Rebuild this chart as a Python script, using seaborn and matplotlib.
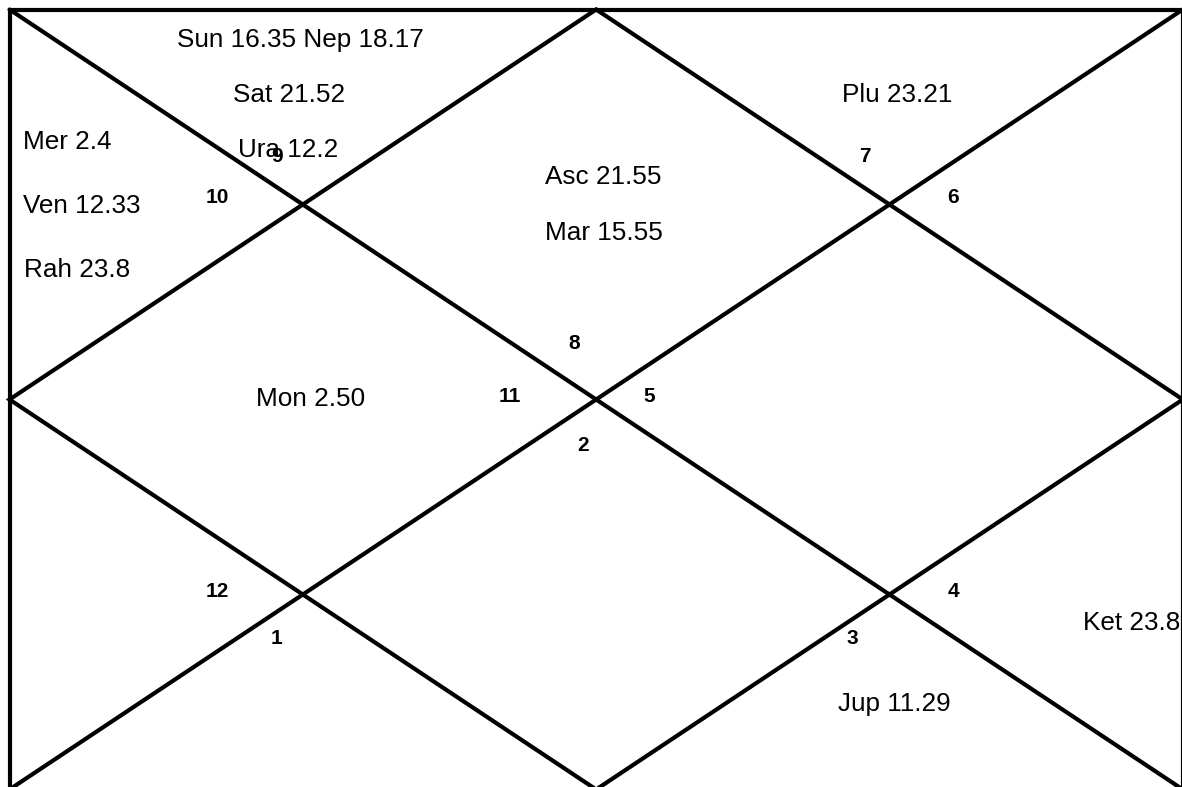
import matplotlib
matplotlib.use("Agg")
import matplotlib.pyplot as plt
import pandas as pd
import seaborn as sns

# Chart content (North Indian style chart)
planet_lines = ['Sun 16.35 Nep 18.17', 'Sat 21.52', 'Ura 12.2',
                'Mer 2.4', 'Ven 12.33', 'Rah 23.8',
                'Asc 21.55', 'Mar 15.55',
                'Plu 23.21',
                'Mon 2.50',
                'Jup 11.29',
                'Ket 23.8']
sign_numbers = [8, 9, 10, 11, 12, 1, 2, 3, 4, 5, 6, 7]

# Layout (pixel positions: left x / baseline y for planets, centre x / baseline y for signs)
planet_x = [177, 233, 238, 23, 23, 24, 545, 545, 842, 256, 838, 1083]
planet_y = [47, 102, 157, 149, 213, 277, 184, 240, 102, 406, 711, 630]
sign_x = [574, 277, 217, 510, 217, 277, 583, 852, 953, 649, 953, 865]
sign_y = [349, 162, 203, 402, 597, 644, 451, 644, 597, 402, 203, 162]

# Chart frame in unit square coordinates, one polyline per segment id
frame = pd.DataFrame({
    'seg': [0, 0, 0, 0, 0, 1, 1, 2, 2, 3, 3, 3, 3, 3],
    'u': [0, 1, 1, 0, 0, 0, 1, 1, 0, 0.5, 1, 0.5, 0, 0.5],
    'v': [0, 0, 1, 1, 0, 0, 1, 0, 1, 0, 0.5, 1, 0.5, 0],
})
x0, x1, y0, y1 = 9.5, 1182.8, 9.5, 789.5
frame['x'] = x0 + frame['u'] * (x1 - x0)
frame['y'] = y0 + frame['v'] * (y1 - y0)

sns.set_theme(style='white')
plt.rcParams['font.family'] = ['Liberation Sans', 'DejaVu Sans']

fig = plt.figure(figsize=(11.82, 7.87), dpi=100)
ax = fig.add_axes([0, 0, 1, 1])

sns.lineplot(data=frame, x='x', y='y', units='seg', estimator=None, sort=False,
             color='black', linewidth=3, ax=ax, solid_joinstyle='miter')

for txt, px, py in zip(planet_lines, planet_x, planet_y):
    ax.text(px, py, txt, ha='left', va='baseline', fontsize=18.8, color='black')

for num, px, py in zip(sign_numbers, sign_x, sign_y):
    ax.text(px, py, str(num), ha='center', va='baseline', fontsize=15,
            fontweight='bold', color='black')

ax.set_xlim(0, 1182)
ax.set_ylim(787, 0)
ax.axis('off')

fig.savefig('out.png', dpi=100)
